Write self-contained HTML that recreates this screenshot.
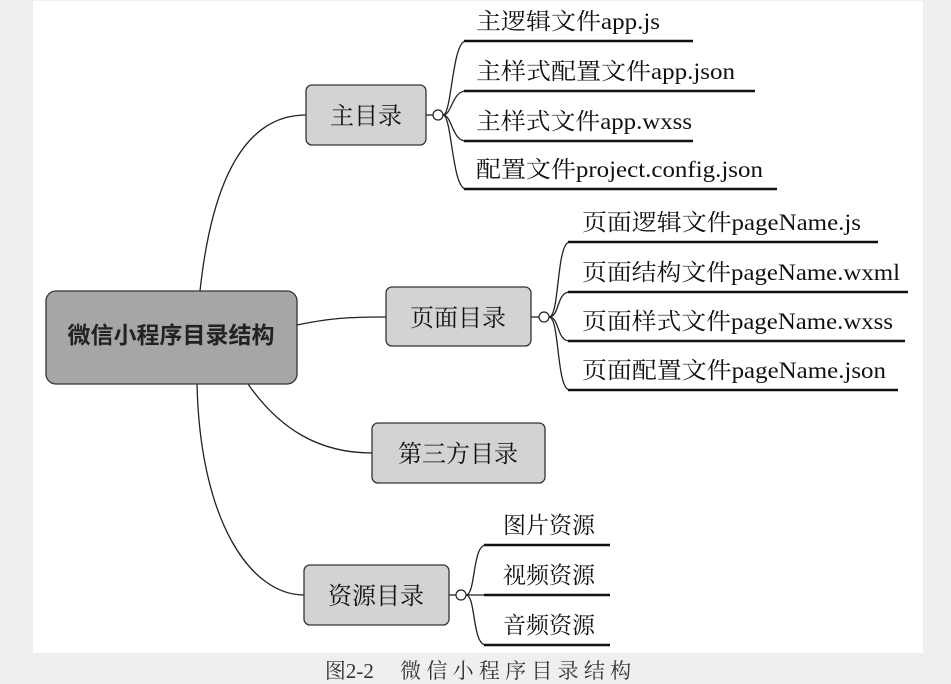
<!DOCTYPE html>
<html><head><meta charset="utf-8"><style>
html,body{margin:0;padding:0;background:#efefef;}
svg{display:block;}
.s{font-family:"Liberation Serif","Noto Serif CJK SC",serif;fill:#111;}
</style></head><body>
<svg width="951" height="684" viewBox="0 0 951 684" xmlns="http://www.w3.org/2000/svg">
<rect x="33" y="1" width="890" height="652" fill="#fff"/>
<g fill="none" stroke="#222" stroke-width="1.3">
<path d="M200,291 C212,180 245,115 306,115"/>
<path d="M297,325 C330,318 350,317 386,317"/>
<path d="M248,384 C280,430 320,453 372,453"/>
<path d="M197,384 C200,520 250,595 304,595"/>
<line x1="426" y1="115" x2="433" y2="115"/>
<line x1="531" y1="317" x2="539" y2="317"/>
<line x1="449" y1="595" x2="456" y2="595"/>
<path d="M443,115 C452,115 452,41 466,41"/>
<path d="M443,115 C452,115 452,91 466,91"/>
<path d="M443,115 C452,115 452,141 466,141"/>
<path d="M443,115 C452,115 452,189 466,189"/>
<path d="M549,317 C560,317 556,242 570,242"/>
<path d="M549,317 C560,317 556,292 570,292"/>
<path d="M549,317 C560,317 556,341 570,341"/>
<path d="M549,317 C560,317 556,390 570,390"/>
<path d="M466,595 C476,595 472,545 486,545"/>
<path d="M466,595 L486,595"/>
<path d="M466,595 C476,595 472,645 486,645"/>
</g>
<g stroke="#111" stroke-width="2.5">
<line x1="464" y1="41" x2="693" y2="41"/>
<line x1="464" y1="91" x2="755" y2="91"/>
<line x1="464" y1="141" x2="693" y2="141"/>
<line x1="464" y1="189" x2="777" y2="189"/>
<line x1="568" y1="242" x2="878" y2="242"/>
<line x1="568" y1="292" x2="908" y2="292"/>
<line x1="568" y1="341" x2="905" y2="341"/>
<line x1="568" y1="390" x2="898" y2="390"/>
<line x1="484" y1="545" x2="610" y2="545"/>
<line x1="484" y1="595" x2="610" y2="595"/>
<line x1="484" y1="645" x2="610" y2="645"/>
</g>
<g fill="#fff" stroke="#222" stroke-width="1.2">
<circle cx="438" cy="115" r="5"/>
<circle cx="544" cy="317" r="5"/>
<circle cx="461" cy="595" r="5"/>
</g>
<g stroke="#333" stroke-width="1.3">
<rect x="46" y="291" width="251" height="93" rx="10" fill="#a6a6a8"/>
<rect x="306" y="85" width="120" height="60" rx="6" fill="#d3d3d3"/>
<rect x="386" y="287" width="145" height="59" rx="6" fill="#d3d3d3"/>
<rect x="372" y="423" width="173" height="60" rx="6" fill="#d3d3d3"/>
<rect x="304" y="565" width="145" height="60" rx="6" fill="#d3d3d3"/>
</g>
<text x="171" y="343" text-anchor="middle" font-family="'Liberation Sans','Noto Sans CJK SC',sans-serif" font-size="23" font-weight="bold" fill="#222">微信小程序目录结构</text>
<g class="s" font-size="24" text-anchor="middle">
<text x="366" y="124">主目录</text>
<text x="458" y="326">页面目录</text>
<text x="458" y="462">第三方目录</text>
<text x="376" y="604">资源目录</text>
</g>
<g class="s" font-size="23" lengthAdjust="spacingAndGlyphs">
<text x="476" y="29" textLength="184" lengthAdjust="spacingAndGlyphs">主逻辑文件app.js</text>
<text x="476" y="79" textLength="259" lengthAdjust="spacingAndGlyphs">主样式配置文件app.json</text>
<text x="476" y="129" textLength="216" lengthAdjust="spacingAndGlyphs">主样式文件app.wxss</text>
<text x="476" y="177" textLength="287" lengthAdjust="spacingAndGlyphs">配置文件project.config.json</text>
<text x="582" y="230" textLength="279" lengthAdjust="spacingAndGlyphs">页面逻辑文件pageName.js</text>
<text x="582" y="280" textLength="318" lengthAdjust="spacingAndGlyphs">页面结构文件pageName.wxml</text>
<text x="582" y="329" textLength="311" lengthAdjust="spacingAndGlyphs">页面样式文件pageName.wxss</text>
<text x="582" y="378" textLength="304" lengthAdjust="spacingAndGlyphs">页面配置文件pageName.json</text>
<text x="503" y="533">图片资源</text>
<text x="503" y="583">视频资源</text>
<text x="503" y="633">音频资源</text>
</g>
<text x="478" y="678" text-anchor="middle" class="s" font-size="21" style="fill:#333" xml:space="preserve">图2-2　 微 信 小 程 序 目 录 结 构</text>
</svg>
</body></html>
